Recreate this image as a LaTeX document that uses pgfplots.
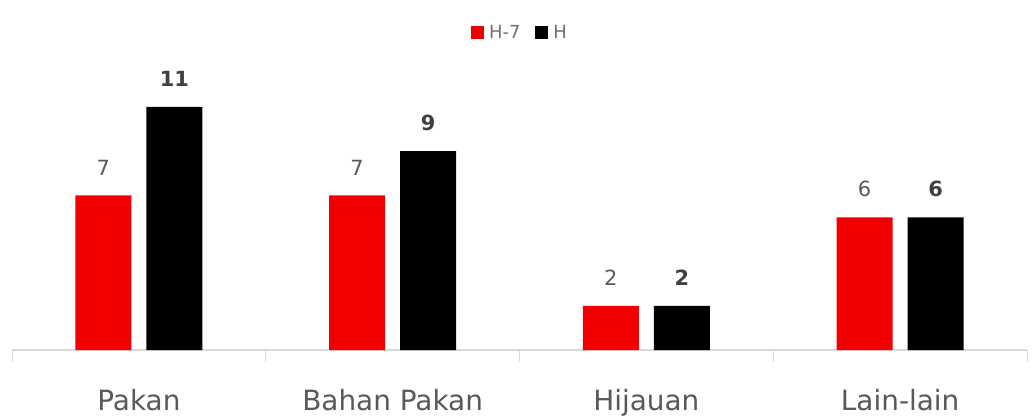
\documentclass[border=0pt]{standalone}
\usepackage{pgfplots}
\pgfplotsset{compat=1.18}
\usepackage{fontspec}
\setmainfont{DejaVu Sans}
\definecolor{lbl}{HTML}{595959}
\definecolor{lgd}{HTML}{707070}
\definecolor{lbld}{HTML}{404040}
\definecolor{axg}{HTML}{D9D9D9}
\definecolor{myred}{HTML}{F20000}
\begin{document}
\begin{tikzpicture}
\useasboundingbox (0,0) rectangle (1035bp,418bp);
\fill[white] (0,0) rectangle (1035bp,418bp);
\begin{axis}[
  at={(12bp,68bp)}, anchor=south west,
  scale only axis, width=1015bp, height=309.4bp,
  xmin=-0.5, xmax=3.5, ymin=0, ymax=14,
  /pgf/number format/assume math mode=true,
  axis y line=none, axis x line*=bottom,
  x axis line style={axg, line width=1.2bp, -},
  xtick={0,1,2,3},
  xticklabels={Pakan,Bahan Pakan,Hijauan,Lain-lain},
  xticklabel style={font=\fontsize{28}{32}\selectfont, text=lbl, anchor=base, yshift=-60bp},
  major tick length=0pt,
  extra x ticks={-0.5,0.5,1.5,2.5,3.5},
  extra x tick labels={},
  extra x tick style={major tick length=12bp, tick align=outside, tick style={axg, line width=1bp}},
  ybar, bar width=0.22,
  legend style={at={(0.5,1)}, xshift=2bp, yshift=7.6bp, anchor=center, draw=none, fill=none,
    legend columns=2, nodes={font=\fontsize{18}{20}\selectfont, text=lgd, inner xsep=5bp, inner ysep=2bp},
    /tikz/every even column/.append style={column sep=10bp}},
  legend image code/.code={\fill[#1] (0bp,-6bp) rectangle (13bp,7bp);},
  clip=false,
]
\addplot[fill=myred, draw=none, bar shift=-0.14,
  nodes near coords, every node near coord/.append style={font=\fontsize{21}{24}\selectfont, text=lbl, anchor=south, inner sep=0pt, yshift=20bp}]
  coordinates {(0,7) (1,7) (2,2) (3,6)};
\addplot[fill=black, draw=none, bar shift=0.14,
  nodes near coords, every node near coord/.append style={font=\bfseries\fontsize{21}{24}\selectfont, text=lbld, anchor=south, inner sep=0pt, yshift=20bp}]
  coordinates {(0,11) (1,9) (2,2) (3,6)};
\legend{H-7,H}
\end{axis}
\end{tikzpicture}
\end{document}
